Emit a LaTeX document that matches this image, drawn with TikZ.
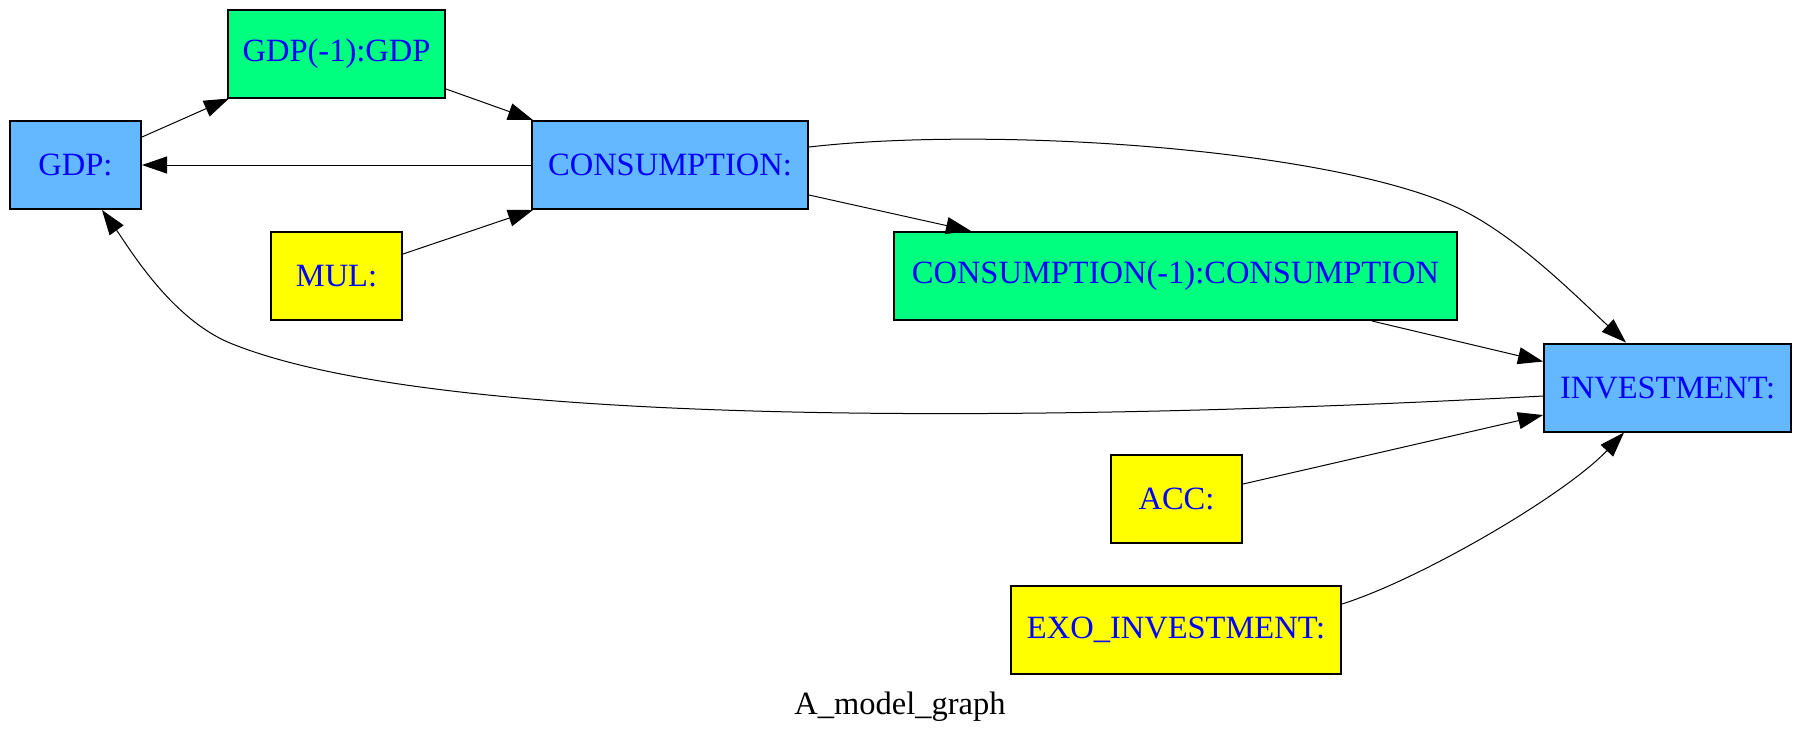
\documentclass[tikz,border=0pt]{standalone}
\usepackage{fontspec}
\setmainfont{Liberation Serif}
\usetikzlibrary{arrows.meta,calc}
\definecolor{nblue}{HTML}{63B8FF}
\definecolor{ngreen}{HTML}{00FF7F}
\definecolor{nyellow}{HTML}{FFFF00}
\definecolor{ntext}{HTML}{0000FF}
\tikzset{
  box/.style={draw=black, line width=0.8pt, inner sep=0pt, minimum height=35.2pt,
    font=\fontsize{13}{15}\selectfont, text=ntext},
  bluebox/.style={box, fill=nblue},
  greenbox/.style={box, fill=ngreen},
  yellowbox/.style={box, fill=nyellow},
  edge/.style={draw=black, line width=0.4pt, -{Triangle[length=10pt,width=6.8pt]}}
}
\begin{document}
\begin{tikzpicture}[x=0.4pt,y=-0.4pt]
\useasboundingbox (0,0) rectangle (1800,743);
\node[greenbox, minimum width=86.8pt] (G1) at (336.5,53.5) {GDP(-1):GDP};
\node[bluebox, minimum width=52.4pt] (GDP) at (75.5,165) {GDP:};
\node[bluebox, minimum width=110.4pt] (CONS) at (670,165) {CONSUMPTION:};
\node[yellowbox, minimum width=52.4pt] (MUL) at (336.5,276) {MUL:};
\node[greenbox, minimum width=225.2pt] (C1) at (1175.5,276) {CONSUMPTION(-1):CONSUMPTION};
\node[bluebox, minimum width=98.8pt] (INV) at (1667.5,387.5) {INVESTMENT:};
\node[yellowbox, minimum width=52.4pt] (ACC) at (1176.5,499) {ACC:};
\node[yellowbox, minimum width=132pt] (EXO) at (1176,630) {EXO\_INVESTMENT:};
\node[anchor=base, font=\fontsize{13}{15}\selectfont, text=black, inner sep=0pt] (cap) at (900,714) {A\_model\_graph};

\draw[edge] ($(GDP.east)+(0,-28)$) -- ($(G1.south west)+(2,0)$);
\draw[edge] ($(G1.east)+(0,35.5)$) -- ($(CONS.north west)+(2,0)$);
\draw[edge] (CONS.west) -- (GDP.east);
\draw[edge] ($(MUL.east)+(0,-22)$) -- ($(CONS.south west)+(2,0)$);
\draw[edge] ($(CONS.east)+(0,30)$) -- ($(C1.north west)+(78,0)$);
\draw[edge] ($(CONS.east)+(0,-18)$) .. controls (1000,125) and (1350,150) .. (1468,213)
  .. controls (1524,243) and (1578,298) .. ($(INV.north west)+(83,0)$);
\draw[edge] ($(C1.south west)+(479,0)$) -- ($(INV.west)+(0,-26)$);
\draw[edge] ($(INV.west)+(0,8.5)$) .. controls (1000,425) and (430,425) .. (230,343)
  .. controls (170,318) and (128,246) .. ($(GDP.south west)+(93,0)$);
\draw[edge] ($(ACC.east)+(0,-15)$) -- ($(INV.west)+(0,27.5)$);
\draw[edge] ($(EXO.east)+(0,-26)$) .. controls (1421,579) and (1565,495) .. ($(INV.south west)+(81,0)$);
\end{tikzpicture}
\end{document}
